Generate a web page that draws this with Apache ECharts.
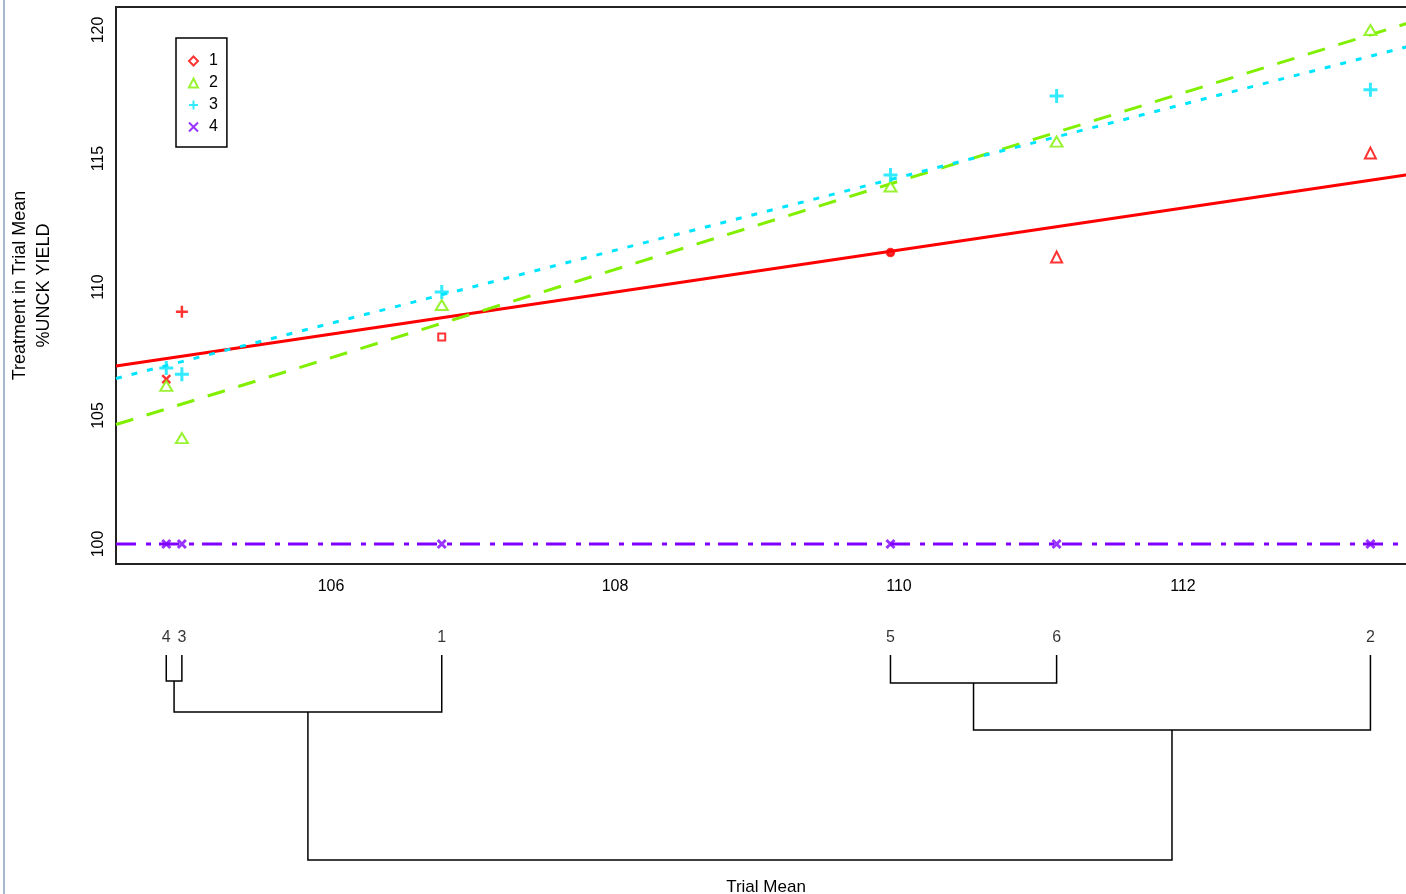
<!DOCTYPE html>
<html><head><meta charset="utf-8">
<script src="https://cdn.jsdelivr.net/npm/echarts@6/dist/echarts.min.js"></script>
<style>html,body{margin:0;padding:0;background:#fff;overflow:hidden}#c{width:1420px;height:894px}</style>
</head><body><div id="c"></div>
<script>
// ---------- data ----------
const trials = ['1', '2', '3', '4', '5', '6'];
const trialMean = [106.78, 113.32, 104.95, 104.84, 109.94, 111.11];
const treatmentNames = ['1', '2', '3', '4'];
const treatment1 = [108.05, 115.21, 109.04, 106.42, 111.34, 111.17];
const treatment2 = [109.30, 120.00, 104.12, 106.15, 113.91, 115.66];
const treatment3 = [109.81, 117.68, 106.61, 106.85, 114.36, 117.43];
const treatment4 = [100, 100, 100, 100, 100, 100];
const xTicks = [106, 108, 110, 112];
const yTicks = [100, 105, 110, 115, 120];
// dendrogram merges: negative = leaf (trial number), positive = earlier merge number
const mergeLeft = [-4, -5, 1, 2, 3];
const mergeRight = [-3, -6, -1, -2, 4];
const mergeHeight = [0.26, 0.28, 0.57, 0.75, 2.05];

// ---------- styling ----------
const FONT = '"Liberation Sans", Arial, sans-serif';
const X_MIN = 104.486, X_MAX = 104.486 + 1300 / 142;
const Y_MIN = 99.222, Y_MAX = 120.895;
const colors = ['#ff0000', '#80f000', '#00e5ff', '#8000ff'];
const plusPath = 'path://M5,0L5,10M0,5L10,5';
const crossPath = 'path://M0,0L10,10M10,0L0,10';
const redShapes = ['emptyRect', 'emptyTriangle', plusPath, crossPath, 'circle', 'emptyTriangle'];
const redSizes = [7, 11, 12, 8, 7, 11];

function fit(xs, ys) {
  const n = xs.length;
  const mx = xs.reduce((a, b) => a + b, 0) / n;
  const my = ys.reduce((a, b) => a + b, 0) / n;
  let sxy = 0, sxx = 0;
  for (let i = 0; i < n; i++) { sxy += (xs[i] - mx) * (ys[i] - my); sxx += (xs[i] - mx) ** 2; }
  const b = sxx ? sxy / sxx : 0;
  return [[X_MIN, my + b * (X_MIN - mx)], [X_MAX, my + b * (X_MAX - mx)]];
}

const allT = [treatment1, treatment2, treatment3, treatment4];
const lineTypes = ['solid', [18, 14], [6, 10], [20, 10, 5, 8]];

// dendrogram geometry from merges
const nodeX = [], nodeH = [];
function nx(id) { return id < 0 ? trialMean[-id - 1] : nodeX[id - 1]; }
function nh(id) { return id < 0 ? 0 : nodeH[id - 1]; }
const dendroData = [];
for (let k = 0; k < mergeLeft.length; k++) {
  const l = mergeLeft[k], r = mergeRight[k];
  nodeX.push((nx(l) + nx(r)) / 2);
  nodeH.push(mergeHeight[k]);
  dendroData.push([nx(l), nh(l), nx(r), nh(r), mergeHeight[k]]);
}

const series = [];
// regression lines
allT.forEach((ys, i) => {
  series.push({
    name: 'fit ' + treatmentNames[i], type: 'line', xAxisIndex: 0, yAxisIndex: 0,
    data: fit(trialMean, ys), symbol: 'none', silent: true, z: 2,
    lineStyle: { color: colors[i], width: 3, type: lineTypes[i], cap: 'butt' }
  });
});
// markers
series.push({
  name: '1', type: 'scatter', z: 5,
  data: trialMean.map((x, j) => ({ value: [x, treatment1[j]], symbol: redShapes[j], symbolSize: redSizes[j] })),
  symbol: 'emptyDiamond', symbolSize: 9,
  itemStyle: { color: colors[0], borderColor: colors[0], borderWidth: 2.5 }
});
series.push({
  name: '2', type: 'scatter', z: 5,
  data: trialMean.map((x, j) => [x, treatment2[j]]),
  symbol: 'emptyTriangle', symbolSize: [12, 10],
  itemStyle: { color: colors[1], borderColor: colors[1], borderWidth: 2 }
});
series.push({
  name: '3', type: 'scatter', z: 5,
  data: trialMean.map((x, j) => [x, treatment3[j]]),
  symbol: plusPath, symbolSize: 14,
  itemStyle: { color: colors[2], borderColor: colors[2], borderWidth: 3 }
});
series.push({
  name: '4', type: 'scatter', z: 5,
  data: trialMean.map((x, j) => [x, treatment4[j]]),
  symbol: crossPath, symbolSize: 8,
  itemStyle: { color: colors[3], borderColor: colors[3], borderWidth: 3 }
});
// dendrogram
series.push({
  name: 'dendrogram', type: 'custom', xAxisIndex: 1, yAxisIndex: 1, silent: true,
  data: dendroData,
  renderItem: function (params, api) {
    const p1 = api.coord([api.value(0), api.value(1)]);
    const p2 = api.coord([api.value(0), api.value(4)]);
    const p3 = api.coord([api.value(2), api.value(4)]);
    const p4 = api.coord([api.value(2), api.value(3)]);
    return { type: 'polyline', shape: { points: [p1, p2, p3, p4] },
      style: { stroke: '#000', lineWidth: 1.5, fill: null } };
  }
});
series.push({
  name: 'leaves', type: 'scatter', xAxisIndex: 1, yAxisIndex: 1, silent: true,
  data: trialMean.map(x => [x, 0]), symbolSize: 0,
  label: { show: true, position: 'top', distance: 9, color: '#000', fontFamily: FONT, fontSize: 16,
    formatter: p => trials[p.dataIndex] }
});

const chart = echarts.init(document.getElementById('c'), null, { renderer: 'canvas' });
chart.setOption({
  animation: false,
  backgroundColor: '#fff',
  textStyle: { fontFamily: FONT },
  grid: [
    { left: 116, top: 7, width: 1300, height: 557, show: true, borderColor: '#222', borderWidth: 2,
      backgroundColor: 'transparent', containLabel: false, outerBoundsMode: 'none' },
    { left: 116, top: 655, width: 1300, height: 205, containLabel: false, outerBoundsMode: 'none' }
  ],
  xAxis: [
    { type: 'value', gridIndex: 0, min: X_MIN, max: X_MAX,
      axisLine: { show: false }, axisTick: { show: false }, splitLine: { show: false },
      axisLabel: { customValues: xTicks, margin: 15, color: '#000', fontSize: 16, fontFamily: FONT } },
    { type: 'value', gridIndex: 1, min: X_MIN, max: X_MAX,
      axisLine: { show: false }, axisTick: { show: false }, splitLine: { show: false }, axisLabel: { show: false },
      name: 'Trial Mean', nameLocation: 'middle', nameGap: 19,
      nameTextStyle: { color: '#000', fontSize: 17, fontFamily: FONT } }
  ],
  yAxis: [
    { type: 'value', gridIndex: 0, min: Y_MIN, max: Y_MAX,
      axisLine: { show: false }, axisTick: { show: false }, splitLine: { show: false },
      axisLabel: { customValues: yTicks, rotate: 90, margin: 9, color: '#000', fontSize: 16, fontFamily: FONT },
      name: 'Treatment in Trial Mean\n%UNCK YIELD', nameLocation: 'middle', nameRotate: 90, nameGap: 60,
      nameTextStyle: { color: '#000', fontSize: 18, lineHeight: 24, fontFamily: FONT, align: 'center' } },
    { type: 'value', gridIndex: 1, min: 0, max: mergeHeight[mergeHeight.length - 1], inverse: true, show: false }
  ],
  legend: {
    orient: 'vertical', left: 176, top: 38, padding: [15, 9, 12, 12],
    itemGap: 6, itemWidth: 9, itemHeight: 9,
    borderColor: '#000', borderWidth: 1.5, borderRadius: 0,
    selectedMode: false, data: treatmentNames,
    textStyle: { color: '#000', fontSize: 16, fontFamily: FONT, padding: [0, 0, 0, 6] }
  },
  graphic: [
    { type: 'line', shape: { x1: 4, y1: 0, x2: 4, y2: 894 }, style: { stroke: '#a8b8cc', lineWidth: 2 }, silent: true }
  ],
  series: series
});
</script>
</body></html>
